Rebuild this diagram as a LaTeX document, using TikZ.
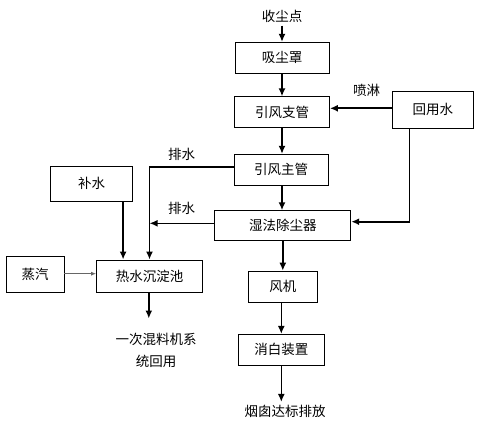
\documentclass[tikz,border=0pt]{standalone}
\usepackage{fontspec}
\setmainfont{Noto Sans CJK SC}
\usepackage{tikz}
\usetikzlibrary{positioning,arrows.meta}
\tikzset{
>={Latex[length=8pt,width=7pt]}, % filled arrow heads
box/.style={draw, line width=.8pt, inner sep=0pt, minimum height=31pt}, % the process boxes
flow/.style={->, line width=1.6pt}, % main connectors
thinflow/.style={->, line width=.8pt, draw=black!60, >={Latex[length=5pt,width=4pt]}}, % steam line
}

\begin{document}
\begin{tikzpicture}[x=1pt, y=-1pt, font=\fontsize{13.5pt}{22pt}\selectfont]
\useasboundingbox (0,0) rectangle (494,430);
\node[draw=none] at (282,16) (shoudian) {收尘点};
\node[box, minimum width=94pt] at (282,57.8) (xichen) {吸尘罩};
\node[box, minimum width=95pt] at (282,112.3) (zhiguan) {引风支管};
\node[box, minimum width=81pt, minimum height=37pt] at (432.8,109.8) (huiyong) {回用水};
\node[box, minimum width=94pt] at (281,169.8) (zhuguan) {引风主管};
\node[box, minimum width=136pt, minimum height=30pt] at (282.8,225.7) (shifa) {湿法除尘器};
\node[box, minimum width=82pt, minimum height=35pt] at (91.5,183.5) (bushui) {补水};
\node[box, minimum width=58pt, minimum height=36pt] at (35,274.7) (zhengqi) {蒸汽};
\node[box, minimum width=106pt, minimum height=32.5pt] at (149.5,276.2) (chendian) {热水沉淀池};
\node[box, minimum width=69pt, minimum height=31.5pt] at (282.8,286.8) (fengji) {风机};
\node[box, minimum width=86pt] at (281.3,349.8) (xiaobai) {消白装置};
\node[draw=none] at (285,411.7) (yancong) {烟囱达标排放};
\node[draw=none, align=center] at (156,350) (huiyong2) {一次混料机系\\统回用};
\node[draw=none] at (366.7,90.7) (penlin) {喷淋};
\node[draw=none] at (181.7,154) (paishui1) {排水};
\node[draw=none] at (181.7,208.3) (paishui2) {排水};
\coordinate (hy) at (409.3,0);
\coordinate (out1) at (148.8,318.5);
\draw[flow] (shoudian) -- (xichen);
\draw[flow] (xichen) -- (zhiguan);
\draw[flow] (zhiguan.south -| xichen) -- (zhiguan.south |- zhuguan.north);
\draw[flow] (zhiguan.south |- zhuguan.south) -- (zhiguan.south |- shifa.north);
\draw[flow] (shifa.south -| fengji) -- (fengji);
\draw[flow] (fengji.south -| xiaobai) -- (xiaobai);
\draw[flow] (xiaobai) -- (xiaobai.south |- yancong.north);
\draw[flow] ([yshift=1.5pt]huiyong.west) -- ([yshift=1.5pt]huiyong.west -| zhiguan.east);
\draw[flow] (huiyong.south -| hy) |- ([yshift=4pt]shifa.east);
\draw[flow] ([yshift=3pt]zhuguan.west) -| (chendian.north);
\draw[flow] ([yshift=2.4pt]shifa.west) -- ([yshift=2.4pt]shifa.west -| chendian.north);
\draw[flow] ([xshift=27pt]chendian.north west |- bushui.south) -- ([xshift=27pt]chendian.north west);
\draw[thinflow] ([yshift=1pt]zhengqi.east) -- ([yshift=1pt]zhengqi.east -| chendian.west);
\draw[flow] (chendian.south -| out1) -- (out1);
\end{tikzpicture}
\end{document}
